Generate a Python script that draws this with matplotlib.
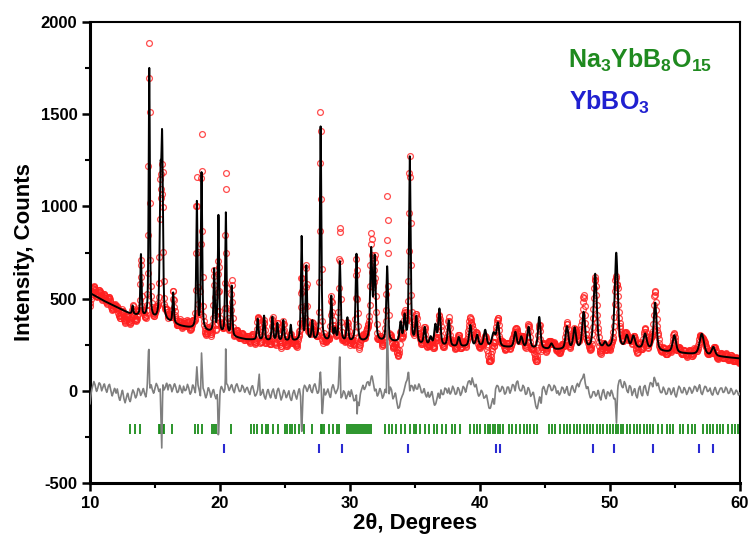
import numpy as np
import matplotlib
matplotlib.use("Agg")
import matplotlib.pyplot as plt

plt.rcParams['font.family'] = ['Liberation Sans', 'DejaVu Sans']
plt.rcParams['font.weight'] = 'bold'
plt.rcParams['axes.unicode_minus'] = False
plt.rcParams['mathtext.fontset'] = 'custom'
plt.rcParams['mathtext.bf'] = 'Liberation Sans:bold'
plt.rcParams['mathtext.rm'] = 'Liberation Sans:bold'

# фон (2theta, counts)
bg_pos = [10, 11, 12, 13, 14, 15, 16, 17, 18, 19, 20, 21, 22, 24, 26, 28, 30,
          32, 34, 35, 36, 38, 40, 42, 44, 46, 48, 50, 52, 54, 56, 58, 60]
bg_int = [530, 490, 455, 420, 400, 385, 372, 350, 335, 320, 305, 290, 278, 270,
          268, 265, 262, 265, 262, 255, 245, 238, 240, 235, 228, 222, 225, 222,
          230, 212, 200, 188, 175]

# рефлексы: положение, высота над фоном, полуширина
peak_pos = [13.28, 13.92, 14.56, 15.42, 15.55, 16.40, 18.22, 18.58, 19.55, 19.88,
            20.45, 20.90, 22.90, 23.39, 24.03, 24.41, 24.87, 25.44, 26.28, 26.64,
            27.10, 27.74, 28.56, 28.85, 29.22, 29.80, 30.50, 31.63, 31.90, 32.86,
            33.89, 34.20, 34.60, 35.10, 35.75, 36.20, 36.57, 36.88, 37.60, 38.37,
            39.26, 39.78, 40.40, 41.05, 41.38, 42.72, 43.18, 43.74, 44.56, 45.50,
            46.69, 47.28, 47.97, 48.86, 49.63, 50.48, 51.30, 51.80, 52.70, 53.47,
            54.95, 57.06, 57.95]
peak_int = [45, 333, 1353, 700, 920, 164, 685, 848, 338, 636,
            662, 271, 114, 132, 128, 94, 111, 85, 563, 400,
            104, 1164, 242, 60, 433, 127, 475, 490, 445, 406,
            101, 135, 1006, 139, 92, 42, 107, 196, 139, 50,
            114, 59, 87, 70, 125, 83, 58, 114, 171, 30,
            122, 112, 195, 406, 30, 521, 65, 63, 81, 258,
            93, 114, 47]
peak_fwhm = [0.11, 0.11, 0.11, 0.14, 0.14, 0.12, 0.12, 0.12, 0.12, 0.12,
             0.12, 0.12, 0.14, 0.14, 0.14, 0.14, 0.14, 0.14, 0.13, 0.13,
             0.14, 0.13, 0.15, 0.15, 0.15, 0.16, 0.16, 0.18, 0.18, 0.16,
             0.17, 0.17, 0.15, 0.18, 0.18, 0.2, 0.2, 0.2, 0.2, 0.2,
             0.22, 0.22, 0.24, 0.3, 0.24, 0.24, 0.24, 0.24, 0.22, 0.25,
             0.25, 0.25, 0.25, 0.28, 0.25, 0.28, 0.28, 0.28, 0.3, 0.26,
             0.3, 0.4, 0.3]

# разность Iobs-Icalc: узлы 10.0, 10.2, ... 60.0
diff_base = [
    -70, 25, 30, 15, 35, 20, 10, 25, 5, -5,
    -15, -30, -20, -40, -35, -45, -20, -10, -25, 5,
    -10, -15, 20, 10, 5, 15, 25, 10, 35, 20,
    5, 30, 15, 20, -5, 10, 25, 5, 15, -5,
    15, 20, 5, -15, -5, -20, 0, -10, -25, -15,
    -5, 10, 15, 30, 20, 5, 25, 15, 0, 20,
    10, -5, 15, 0, -20, 10, -15, -30, -10, -20,
    -5, -25, 0, -15, -30, -10, -20, -40, -15, -25,
    -10, -30, 5, 20, 15, 0, 25, 10, -5, 5,
    10, -10, -20, 15, 5, 0, -15, -30, -10, -25,
    -35, -20, -50, -60, -15, 30, 20, 50, 60, 40,
    10, -15, -5, -25, -10, -20, 5, -30, -60, -90,
    -30, 15, 60, 0, 25, 35, 10, 20, -10, -20,
    -5, -25, -45, -70, -10, 5, -20, 10, 15, -5,
    10, -15, 5, -10, 15, 25, 55, 70, 20, -5,
    -20, -10, -35, -60, -95, -40, 10, 25, 0, 15,
    -10, 20, 5, 30, 45, 15, 0, 20, -15, 5,
    -20, -45, -100, -30, 10, 0, 15, 25, 5, 20,
    0, -10, 15, 5, -20, 10, 5, 25, 20, 60,
    95, 10, -15, -30, -5, -20, -35, -10, -25, -5,
    -30, -15, -40, 20, 60, 15, 35, -10, 20, -5,
    -25, 10, -15, 20, -5, 15, 40, 75, 25, 10,
    -10, 5, -15, 10, -5, -20, 0, 15, -10, 5,
    -5, 10, 0, 20, 15, -10, 5, 20, 0, -15,
    5, -10, 0, 15, -5, 10, -10, 0, -15, -5,
    -10]
# промежуточные узлы 10.1, 10.3, ... 59.9
diff_mid = [
    -5, 50, -5, 45, 0, 40, -10, 35, -30, 15,
    10, -55, 5, -65, -10, -60, 5, -40, 15, -25,
    15, -35, 0, 35, -15, 40, -5, 0, 5, 45,
    35, -5, 40, -10, 30, -15, 0, 35, -20, 35,
    -10, 35, -30, 15, -40, 20, -35, 10, -45, 0,
    25, -10, 40, 0, 35, -10, 40, -5, 30, -10,
    20, -20, 30, -30, 5, -25, 10, -45, 10, -40,
    10, -45, 15, -50, 5, -40, 0, -55, 5, -45,
    15, -20, 30, -5, 35, -10, 40, -15, 20, -10,
    -25, 10, -40, 35, -15, 20, -40, 0, -45, 0,
    5, -55, -20, -80, 10, 5, 45, 25, 80, 0,
    -30, 15, -40, 10, -35, 20, -45, -10, -95, -50,
    -15, 45, 0, 30, 0, 10, 40, -10, 15, -35,
    -35, 0, -80, -40, -45, -20, 15, -15, -20, 25,
    -20, 20, -25, 25, -10, 50, 30, 40, 35, -30,
    5, -40, -20, -95, -65, -80, 30, -5, 25, -20,
    20, -15, 35, 0, 55, 0, 30, -20, 20, -30,
    -5, -85, -60, -75, 25, -20, 35, 0, 30, -15,
    -25, 20, -15, 25, -25, 30, -10, 40, 45, 70,
    40, 25, -40, -5, -30, 5, -50, 10, -45, -10,
    5, -45, 0, 55, 25, 50, 0, 30, -25, 15,
    -40, 25, -30, 30, -25, 45, 20, 55, 45, -10,
    20, -20, 15, -20, 20, -35, 25, -10, 20, -20,
    20, -15, 25, -5, 35, -20, 25, -5, 15, -25,
    20, -20, 15, -10, 20, -15, 15, -20, 5, -25]
spike_pos = [14.52, 15.52, 18.22, 18.58, 19.88, 20.45, 23.02, 26.28, 27.72, 27.86,
             29.22, 30.55, 31.65, 32.86, 34.50, 50.50]
spike_val = [255, -310, 130, 205, -270, 280, 90, -240, 115, -145,
             215, -125, 80, 380, 110, -175]

# штрих-метки фаз
na_ticks = [13.10, 13.48, 13.87, 15.27, 15.38, 15.48, 15.58, 15.73, 16.30, 18.09,
            18.27, 18.60, 19.37, 19.55, 19.73, 20.83, 22.42, 22.62, 22.88, 23.26,
            23.52, 23.72, 24.11, 24.46, 25.00, 25.18, 25.36, 25.51, 25.77, 26.08,
            26.46, 27.10, 27.74, 27.87, 28.00, 28.38, 28.69, 29.02, 29.15, 29.80,
            29.95, 30.10, 30.25, 30.40, 30.55, 30.70, 30.85, 31.00, 31.15, 31.30,
            31.45, 31.60, 32.73, 32.99, 33.25, 33.55, 33.89, 34.27, 34.65, 34.91,
            35.11, 35.42, 35.75, 36.06, 36.45, 36.70, 37.09, 37.42, 37.85, 38.11,
            38.49, 39.26, 39.52, 39.77, 40.03, 40.41, 40.59, 40.80, 41.00, 41.18,
            41.36, 41.57, 41.77, 42.21, 42.46, 42.80, 43.10, 43.36, 43.61, 43.87,
            44.13, 44.38, 45.28, 45.53, 45.79, 46.17, 46.43, 46.69, 46.94, 47.20,
            47.45, 47.71, 47.97, 48.22, 48.48, 48.73, 48.99, 49.25, 49.50, 49.76,
            50.01, 50.27, 50.45, 50.63, 50.83, 51.04, 51.30, 51.55, 51.81, 52.06,
            52.32, 52.58, 52.83, 53.09, 53.34, 53.73, 53.98, 54.37, 54.62, 54.88,
            55.39, 55.65, 56.03, 56.29, 56.54, 57.18, 57.44, 57.70, 57.95, 58.21,
            58.46, 58.72, 59.10, 59.36, 59.62, 59.87]
yb_ticks = [20.32, 27.61, 29.41, 34.47, 41.26, 41.57, 48.68, 50.32, 53.29, 56.88, 57.95]


def pvoigt(x, x0, fwhm, eta=0.5):
    d = (x - x0) / (fwhm / 2)
    return eta / (1 + d**2) + (1 - eta) * np.exp(-np.log(2) * d**2)


tth = np.arange(10, 60.0001, 0.01)
calc = np.interp(tth, bg_pos, bg_int)
for p, h, w in zip(peak_pos, peak_int, peak_fwhm):
    calc = calc + h * pvoigt(tth, p, w)

# узлы разности
d_x = np.concatenate([np.round(np.arange(10, 60.0001, 0.2), 2),
                      np.round(np.arange(10.1, 60, 0.2), 2)])
d_y = np.array(diff_base + diff_mid, dtype=float)
keep = np.array([min(abs(x - s) for s in spike_pos) > 0.05 for x in d_x])
d_x = np.concatenate([d_x[keep], spike_pos])
d_y = np.concatenate([d_y[keep], spike_val])
order = np.argsort(d_x)
d_x, d_y = d_x[order], d_y[order]

t_obs = tth[::3]
c_obs = calc[::3]
obs = c_obs + np.interp(t_obs, d_x, d_y)
diff = obs - c_obs

fig = plt.figure(figsize=(7.55, 5.38), dpi=100)
ax = fig.add_axes([0.1192, 0.1022, 0.8609, 0.8569])

ax.plot(t_obs, obs, 'o', ms=4.2, mfc='none', mec='#ff2020', mew=0.9, alpha=0.8, zorder=2)
ax.plot(tth, calc, color='black', lw=1.4, zorder=3)
ax.plot(t_obs, diff, color='#7f7f7f', lw=1.2, zorder=3)
ax.vlines(na_ticks, -235, -178, color='#1a8c1a', lw=1.3)
ax.vlines(yb_ticks, -335, -286, color='#2a2ad2', lw=1.5)

ax.text(46.8, 1750, r'$\mathbf{Na_3YbB_8O_{15}}$', color='#1f8a1f', fontsize=18)
ax.text(46.87, 1522, r'$\mathbf{YbBO_3}$', color='#2020d0', fontsize=18)

ax.set_xlim(10, 60)
ax.set_ylim(-500, 2000)
ax.set_xticks([10, 20, 30, 40, 50, 60])
ax.set_xticks([15, 25, 35, 45, 55], minor=True)
ax.set_yticks([-500, 0, 500, 1000, 1500, 2000])
ax.set_yticks([-250, 250, 750, 1250, 1750], minor=True)
ax.tick_params(which='major', direction='out', length=6, width=1.8, labelsize=12, pad=3)
ax.tick_params(which='minor', direction='out', length=3.5, width=1.5)
for lab in ax.get_xticklabels() + ax.get_yticklabels():
    lab.set_fontweight('bold')
ax.spines['left'].set_linewidth(2.2)
ax.spines['bottom'].set_linewidth(2.2)
ax.spines['top'].set_linewidth(1.5)
ax.spines['right'].set_linewidth(1.5)
ax.set_xlabel('2θ, Degrees', fontsize=16, fontweight='bold', labelpad=2)
ax.set_ylabel('Intensity, Counts', fontsize=16, fontweight='bold', labelpad=4)

fig.savefig('out.png', dpi=100)
